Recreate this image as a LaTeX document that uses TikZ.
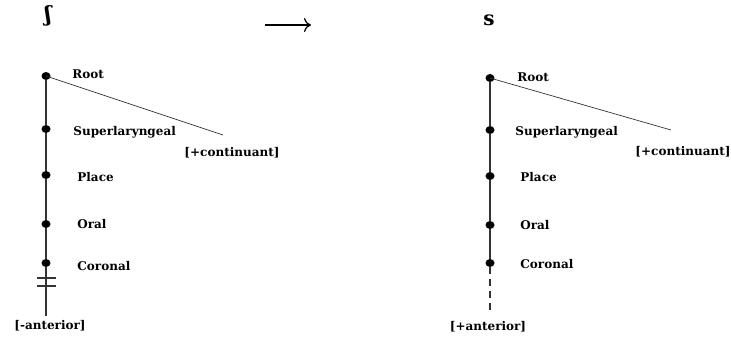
\documentclass[tikz,border=0pt]{standalone}
\usepackage{fontspec}
\setmainfont{DejaVu Serif}
\usetikzlibrary{shapes.geometric, arrows.meta, positioning}
\tikzstyle{featnode} = [ellipse, fill=black, inner sep=0pt, minimum
    width=9pt, minimum height=8pt]
\tikzstyle{tier} = [anchor=west, inner sep=0pt, font=\bfseries\fontsize{12}{14}\selectfont]
\tikzstyle{valence} = [inner sep=0pt, font=\bfseries\fontsize{12}{14}\selectfont]
\tikzstyle{stem} = [line width=1.1pt, draw=black!80]
\tikzstyle{spread} = [line width=0.7pt, draw=black!80]

\begin{document}
\begin{tikzpicture}[x=1pt, y=-1pt]
            \useasboundingbox (0,0) rectangle (731,337);
            % Segments
            \node[inner sep=0pt, font=\bfseries\fontsize{21}{22}\selectfont] (sh) at (48,16) {ʃ};
            \node[inner sep=0pt, font=\bfseries\fontsize{20}{22}\selectfont] (s) at (489,20) {s};
            \coordinate (arrL) at (265,25);
            \coordinate (arrR) at (311,25);
            \draw[line width=1.2pt, -{To[length=7pt, width=14pt]}] (arrL) -- (arrR);
            % Left tree
            \node[featnode] (rootL) at (46,76) {};
            \node[featnode] (supL) at (46,129) {};
            \node[featnode] (placeL) at (46,175) {};
            \node[featnode] (oralL) at (46,224) {};
            \node[featnode] (corL) at (46,263) {};
            \coordinate (endL) at (46,316);
            \coordinate (contL) at (223,135);
            \node[tier, right=21.5pt of rootL, yshift=2pt] {Root};
            \node[tier, right=22.5pt of supL, yshift=-3pt] {Superlaryngeal};
            \node[tier, right=26.5pt of placeL, yshift=-2pt] {Place};
            \node[tier, right=26.5pt of oralL] {Oral};
            \node[tier, right=26.5pt of corL, yshift=-3pt] {Coronal};
            \node[valence] (contvL) at (232,153) {[+continuant]};
            \node[valence] (antL) at (50,326) {[-anterior]};
            % Left lines
            \draw[stem] (rootL) -- (supL) -- (placeL) -- (oralL) -- (corL) -- (endL);
            \draw[spread] (rootL.center) -- (contL);
            \draw[stem] (37,278) -- (56,278);
            \draw[stem] (37,286) -- (56,286);
            % Right tree
            \node[featnode] (rootR) at (490,78) {};
            \node[featnode] (supR) at (490,130) {};
            \node[featnode] (placeR) at (490,176) {};
            \node[featnode] (oralR) at (490,225) {};
            \node[featnode] (corR) at (490,263) {};
            \coordinate (endR) at (490,312);
            \coordinate (contR) at (671,130);
            \node[tier, right=22.5pt of rootR, yshift=1pt] {Root};
            \node[tier, right=20.5pt of supR, yshift=-2pt] {Superlaryngeal};
            \node[tier, right=25.5pt of placeR, yshift=-1pt] {Place};
            \node[tier, right=25.5pt of oralR] {Oral};
            \node[tier, right=25.5pt of corR, yshift=-1pt] {Coronal};
            \node[valence] (contvR) at (683,152) {[+continuant]};
            \node[valence] (antR) at (488,327) {[+anterior]};
            % Right lines
            \draw[stem] (rootR) -- (supR) -- (placeR) -- (oralR) -- (corR);
            \draw[stem, dash pattern=on 7pt off 5pt] (corR) -- (endR);
            \draw[spread] (rootR.center) -- (contR);
        \end{tikzpicture}
\end{document}
